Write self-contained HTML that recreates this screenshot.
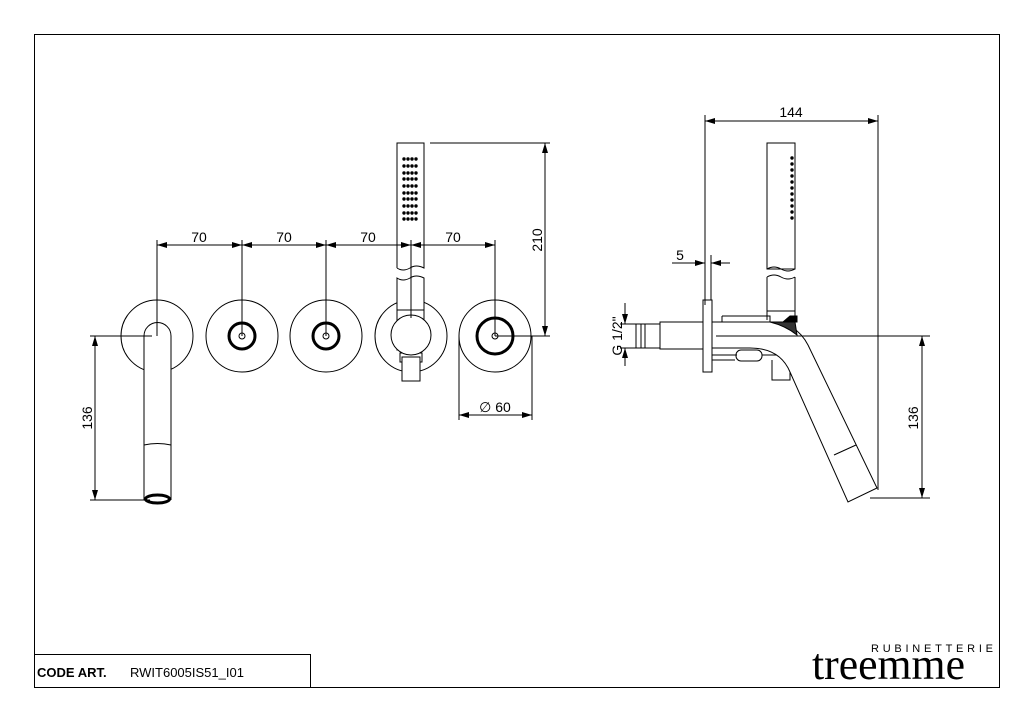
<!DOCTYPE html>
<html><head><style>
html,body{margin:0;padding:0;background:#fff;}
svg{display:block;font-family:"Liberation Sans",sans-serif;}
</style></head><body>
<svg width="1024" height="723" viewBox="0 0 1024 723" xmlns="http://www.w3.org/2000/svg">
<defs>
<marker id="a" viewBox="0 0 10 6" refX="10" refY="3" markerWidth="10" markerHeight="6" orient="auto-start-reverse" markerUnits="userSpaceOnUse"><path d="M0,0 L10,3 L0,6 z" fill="#000"/></marker>
</defs>
<g fill="none" stroke="#000" stroke-width="1">
<rect x="34.5" y="34.5" width="965" height="653"/>
<polyline points="34.5,654.5 310.5,654.5 310.5,687.5"/>
</g>
<text x="37" y="677" font-size="13" font-weight="bold">CODE ART.</text>
<text x="130" y="677" font-size="13">RWIT6005IS51_I01</text>
<text x="871" y="652" font-size="11" textLength="122" lengthAdjust="spacing">RUBINETTERIE</text>
<text x="812" y="679" font-size="44" font-family="Liberation Serif,serif" textLength="153" lengthAdjust="spacingAndGlyphs">treemme</text>

<g fill="none" stroke="#000" stroke-width="1">
<circle cx="157" cy="336" r="36"/>
<circle cx="242" cy="336" r="36"/>
<circle cx="326" cy="336" r="36"/>
<circle cx="411" cy="336" r="36"/>
<circle cx="495" cy="336" r="36"/>
<circle cx="242" cy="336" r="13" stroke-width="3"/>
<circle cx="242" cy="336" r="3"/>
<circle cx="326" cy="336" r="13" stroke-width="3"/>
<circle cx="326" cy="336" r="3"/>
<circle cx="495" cy="336" r="18" stroke-width="3"/>
<circle cx="495" cy="336" r="3"/>
<path d="M144,500 L144,336 A13.5,13.5 0 0 1 171,336 L171,500" fill="#fff"/>
<path d="M144,445 Q157.5,442 171,445"/>
<ellipse cx="157.5" cy="499" rx="12" ry="4" stroke-width="3"/>
<path d="M397,268 L397,143 L424,143 L424,268 Q416,264 410,268 Q403,272 397,268" fill="#fff"/>
<path d="M397,278 Q403,282 410,278 Q416,274 424,278 L424,350 L397,350 Z" fill="#fff"/>
<line x1="397" y1="310" x2="424" y2="310"/>
<rect x="400" y="353" width="22" height="9"/>
<rect x="402" y="357" width="18" height="24" fill="#fff"/>
<circle cx="411" cy="335" r="20" fill="#fff"/>
<line x1="157" y1="240" x2="157" y2="336"/>
<line x1="242" y1="240" x2="242" y2="336"/>
<line x1="326" y1="240" x2="326" y2="336"/>
<line x1="411" y1="240" x2="411" y2="318"/>
<line x1="495" y1="240" x2="495" y2="336"/>
<line x1="157" y1="245" x2="242" y2="245" marker-start="url(#a)" marker-end="url(#a)"/>
<line x1="242" y1="245" x2="326" y2="245" marker-start="url(#a)" marker-end="url(#a)"/>
<line x1="326" y1="245" x2="411" y2="245" marker-start="url(#a)" marker-end="url(#a)"/>
<line x1="411" y1="245" x2="495" y2="245" marker-start="url(#a)" marker-end="url(#a)"/>
<line x1="430" y1="143" x2="550" y2="143"/>
<line x1="495" y1="336" x2="550" y2="336"/>
<line x1="545" y1="143" x2="545" y2="336" marker-start="url(#a)" marker-end="url(#a)"/>
<line x1="459" y1="336" x2="459" y2="420"/>
<line x1="532" y1="336" x2="532" y2="420"/>
<line x1="459" y1="415" x2="532" y2="415" marker-start="url(#a)" marker-end="url(#a)"/>
<line x1="90" y1="336" x2="152" y2="336"/>
<line x1="90" y1="500" x2="150" y2="500"/>
<line x1="95" y1="336" x2="95" y2="500" marker-start="url(#a)" marker-end="url(#a)"/>
</g>
<g fill="#000">
<g id="dots">
<circle cx="404" cy="159" r="1.7"/><circle cx="408" cy="159" r="1.7"/><circle cx="412" cy="159" r="1.7"/><circle cx="416" cy="159" r="1.7"/>
</g>
<use href="#dots" y="7"/><use href="#dots" y="14"/><use href="#dots" y="20"/><use href="#dots" y="27"/><use href="#dots" y="34"/><use href="#dots" y="40"/><use href="#dots" y="47"/><use href="#dots" y="54"/><use href="#dots" y="60"/>
</g>
<g font-size="14">
<text x="199" y="242" text-anchor="middle">70</text>
<text x="284" y="242" text-anchor="middle">70</text>
<text x="368" y="242" text-anchor="middle">70</text>
<text x="453" y="242" text-anchor="middle">70</text>
<text x="495" y="412" text-anchor="middle">∅ 60</text>
<text transform="translate(542,240) rotate(-90)" text-anchor="middle">210</text>
<text transform="translate(92,418) rotate(-90)" text-anchor="middle">136</text>
</g>

<g fill="none" stroke="#000" stroke-width="1">
<rect x="767" y="143" width="28" height="126"/>
<path d="M767,269 Q774,265 781,269 Q788,273 795,269"/>
<path d="M767,277 Q774,273 781,277 Q788,281 795,277"/>
<path d="M767,277 L767,320 M795,277 L795,320"/>
<line x1="767" y1="311" x2="795" y2="311"/>
<path d="M722,316 L770,316 L770,322 M722,316 L722,322"/>
<rect x="636" y="324" width="24" height="24"/>
<line x1="641" y1="324" x2="641" y2="348"/>
<line x1="645" y1="324" x2="645" y2="348"/>
<rect x="660" y="322" width="43" height="27"/>
<rect x="703" y="300" width="9" height="72" fill="#fff"/>
<path d="M712,322 L770,322 Q796,322 808,345 L877,488 L848,502 L790,372 Q780,348 750,348 L712,348"/>
<line x1="716" y1="336" x2="800" y2="336"/>
<line x1="834" y1="455" x2="856" y2="445"/>
<path d="M785,322 L797,322 L797,316 L790,316 L783,322 Z" fill="#000"/>
<path d="M770,322 L795,322 L797,335 Q786,326 770,322 Z" fill="#333"/>
<path d="M712,355 L737,355 M712,360 L735,360"/>
<rect x="736" y="350" width="26" height="11" rx="5"/>
<path d="M762,355 L776,355"/>
<path d="M772,360 L772,380 L790,380 L790,372"/>
<line x1="705" y1="115" x2="705" y2="305"/>
<line x1="878" y1="115" x2="878" y2="490"/>
<line x1="705" y1="121" x2="878" y2="121" marker-start="url(#a)" marker-end="url(#a)"/>
<line x1="672" y1="263" x2="705" y2="263" marker-end="url(#a)"/>
<line x1="730" y1="263" x2="711" y2="263" marker-end="url(#a)"/>
<line x1="711" y1="255" x2="711" y2="300"/>
<line x1="620" y1="324" x2="636" y2="324"/>
<line x1="620" y1="348" x2="636" y2="348"/>
<line x1="625" y1="303" x2="625" y2="324" marker-end="url(#a)"/>
<line x1="625" y1="366" x2="625" y2="348" marker-end="url(#a)"/>
<line x1="800" y1="336" x2="930" y2="336"/>
<line x1="870" y1="498" x2="930" y2="498"/>
<line x1="922" y1="336" x2="922" y2="498" marker-start="url(#a)" marker-end="url(#a)"/>
</g>
<g fill="#000">
<circle cx="792" cy="158" r="1.7"/><circle cx="792" cy="164" r="1.7"/><circle cx="792" cy="170" r="1.7"/><circle cx="792" cy="176" r="1.7"/><circle cx="792" cy="182" r="1.7"/><circle cx="792" cy="188" r="1.7"/><circle cx="792" cy="194" r="1.7"/><circle cx="792" cy="200" r="1.7"/><circle cx="792" cy="206" r="1.7"/><circle cx="792" cy="212" r="1.7"/><circle cx="792" cy="218" r="1.7"/>
</g>
<g font-size="14">
<text x="791" y="117" text-anchor="middle">144</text>
<text x="680" y="260" text-anchor="middle">5</text>
<text transform="translate(622,336) rotate(-90)" text-anchor="middle">G 1/2"</text>
<text transform="translate(918,418) rotate(-90)" text-anchor="middle">136</text>
</g>
</svg>
</body></html>
